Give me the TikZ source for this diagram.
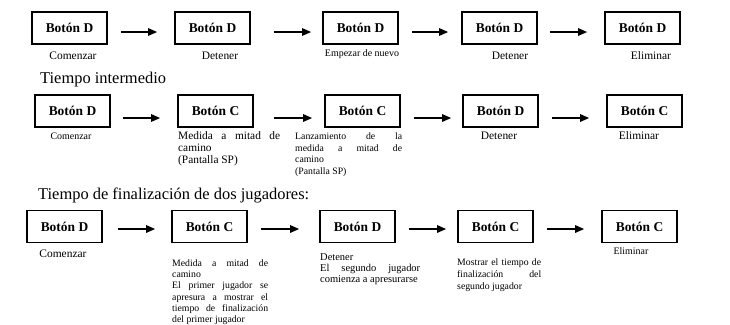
\documentclass[tikz,border=0pt]{standalone}
\usepackage{fontspec}
\setmainfont{Liberation Serif}
\usetikzlibrary{arrows.meta}
\setlength\parindent{0pt}
\begin{document}
\begin{tikzpicture}[x=1bp,y=-1bp,
 btn/.style={draw,line width=1.7bp,minimum width=75bp,minimum height=32bp,inner sep=0pt,font=\fontsize{13.5}{15}\selectfont\bfseries},
 arr/.style={line width=1.4bp,-{Triangle[length=9bp,width=7.5bp]}},
 lblA/.style={inner sep=0pt,font=\fontsize{11.5}{13}\selectfont},
 lblB/.style={inner sep=0pt,font=\fontsize{10}{11}\selectfont},
 ttl/.style={inner sep=0pt,anchor=west,font=\fontsize{16.5}{18}\selectfont},
 para/.style={inner sep=0pt,anchor=north west,align=justify},
]
\useasboundingbox (0,0) rectangle (730,324);
% ---------- row 1
\node[btn] (a1) at (69.5,28) {Botón D};
\node[btn] (a2) at (212.5,28) {Botón D};
\node[btn] (a3) at (360.5,28) {Botón D};
\node[btn] (a4) at (499.5,28) {Botón D};
\node[btn] (a5) at (642.5,28) {Botón D};
\draw[arr,shorten <=13bp,shorten >=17bp] ([yshift=-4bp]a1.east) -- ([yshift=-4bp]a2.west);
\draw[arr,shorten <=23bp,shorten >=11bp] ([yshift=-4bp]a2.east) -- ([yshift=-4bp]a3.west);
\draw[arr,shorten <=13bp,shorten >=13bp] ([yshift=-4bp]a3.east) -- ([yshift=-4bp]a4.west);
\draw[arr,shorten <=12bp,shorten >=17bp] ([yshift=-4bp]a4.east) -- ([yshift=-4bp]a5.west);
\node[lblA] (la1) at (73,56) {Comenzar};
\node[lblA] (la2) at (220,56) {Detener};
\node[lblB] (la3) at (362,54) {Empezar de nuevo};
\node[lblA] (la4) at (510,56) {Detener};
\node[lblA] (la5) at (651,56) {Eliminar};
% ---------- row 2
\node[ttl] (t2) at (40,80) {Tiempo intermedio};
\node[btn] (b1) at (72.5,111) {Botón D};
\node[btn] (b2) at (215.5,111) {Botón C};
\node[btn] (b3) at (362.5,111) {Botón C};
\node[btn] (b4) at (500.5,111) {Botón D};
\node[btn] (b5) at (644.5,111) {Botón C};
\draw[arr,shorten <=12bp,shorten >=17bp] ([yshift=-7bp]b1.east) -- ([yshift=-7bp]b2.west);
\draw[arr,shorten <=20bp,shorten >=12bp] ([yshift=-7bp]b2.east) -- ([yshift=-7bp]b3.west);
\draw[arr,shorten <=13bp,shorten >=11bp] ([yshift=-7bp]b3.east) -- ([yshift=-7bp]b4.west);
\draw[arr,shorten <=13bp,shorten >=17bp] ([yshift=-7bp]b4.east) -- ([yshift=-7bp]b5.west);
\node[lblB] (lb1) at (71,136) {Comenzar};
\node[para,text width=102bp,font=\fontsize{11.4}{12.5}\selectfont] (lb2) at (178,131)
 {Medida a mitad de\linebreak camino\\(Pantalla SP)};
\node[para,text width=107bp,font=\fontsize{9.8}{11.6}\selectfont] (lb3) at (295,132.5)
 {Lanzamiento de la\linebreak medida a mitad de\linebreak camino\\(Pantalla SP)};
\node[lblA] (lb4) at (499,136) {Detener};
\node[lblA] (lb5) at (639,136) {Eliminar};
% ---------- row 3
\node[ttl] (t3) at (38,195) {Tiempo de finalización de dos jugadores:};
\node[btn] (c1) at (64.5,226.5) {Botón D};
\node[btn] (c2) at (209.5,226.5) {Botón C};
\node[btn] (c3) at (357.5,226.5) {Botón D};
\node[btn] (c4) at (495.5,226.5) {Botón C};
\node[btn] (c5) at (639.5,226.5) {Botón C};
\draw[arr,shorten <=15bp,shorten >=16bp] ([yshift=-2.5bp]c1.east) -- ([yshift=-2.5bp]c2.west);
\draw[arr,shorten <=13bp,shorten >=20bp] ([yshift=-2.5bp]c2.east) -- ([yshift=-2.5bp]c3.west);
\draw[arr,shorten <=13bp,shorten >=11bp] ([yshift=-2.5bp]c3.east) -- ([yshift=-2.5bp]c4.west);
\draw[arr,shorten <=13bp,shorten >=17bp] ([yshift=-2.5bp]c4.east) -- ([yshift=-2.5bp]c5.west);
\node[lblA] (lc1) at (63,254) {Comenzar};
\node[para,text width=96bp,font=\fontsize{9.8}{11.3}\selectfont] (lc2) at (172,259.5)
 {Medida a mitad de\linebreak camino\\El primer jugador se\linebreak apresura a mostrar el\linebreak tiempo de finalización\linebreak del primer jugador};
\node[para,text width=100bp,font=\fontsize{10.5}{11.3}\selectfont] (lc3) at (320,253)
 {Detener\\El segundo jugador\linebreak comienza a apresurarse};
\node[para,text width=84bp,font=\fontsize{9.8}{12}\selectfont] (lc4) at (457,258.5)
 {Mostrar el tiempo de\linebreak finalización\hfill del\\segundo jugador};
\node[lblB] (lc5) at (631,251) {Eliminar};
\end{tikzpicture}
\end{document}
